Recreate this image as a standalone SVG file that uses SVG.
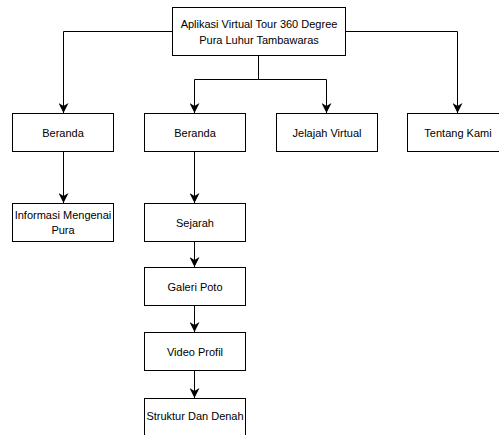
<svg xmlns="http://www.w3.org/2000/svg" width="499" height="435" viewBox="0 0 499 435">
<style>
.box{fill:#fff;stroke:#000;stroke-width:1}
.t{font-family:"Liberation Sans",Arial,sans-serif;font-size:11px;fill:#000;text-anchor:middle}
.c{fill:none;stroke:#000;stroke-width:1}
</style>
<defs>
<marker id="ah" viewBox="0 0 10 10" refX="10" refY="5" markerWidth="10" markerHeight="10" markerUnits="userSpaceOnUse" orient="auto">
<path d="M0,0 L10,5 L0,10 L3,5 Z" fill="#000"/>
</marker>
</defs>
<rect width="499" height="435" fill="#fff"/>
<g id="connectors">
<path class="c" d="M172.5,31.5 H63.5 V113" marker-end="url(#ah)"/>
<path class="c" d="M345.5,31.5 H457.5 V113" marker-end="url(#ah)"/>
<path class="c" d="M258.5,55.5 V79.5 H194.5 V113" marker-end="url(#ah)"/>
<path class="c" d="M258.5,79.5 H326.5 V113" marker-end="url(#ah)"/>
<path class="c" d="M63.5,151.5 V203" marker-end="url(#ah)"/>
<path class="c" d="M194.5,151.5 V203" marker-end="url(#ah)"/>
<path class="c" d="M194.5,241.5 V267" marker-end="url(#ah)"/>
<path class="c" d="M194.5,305.5 V332" marker-end="url(#ah)"/>
<path class="c" d="M194.5,370.5 V398" marker-end="url(#ah)"/>
</g>
<g id="root">
<rect class="box" x="172.5" y="7.5" width="173" height="48"/>
<text class="t" x="259" y="28">Aplikasi Virtual Tour 360 Degree</text>
<text class="t" x="259" y="44">Pura Luhur Tambawaras</text>
</g>
<g id="beranda1">
<rect class="box" x="12.5" y="113.5" width="101" height="38"/>
<text class="t" x="63" y="137">Beranda</text>
</g>
<g id="beranda2">
<rect class="box" x="144.5" y="113.5" width="101" height="38"/>
<text class="t" x="195" y="137">Beranda</text>
</g>
<g id="jelajah">
<rect class="box" x="276.5" y="113.5" width="101" height="38"/>
<text class="t" x="327" y="137">Jelajah Virtual</text>
</g>
<g id="tentang">
<rect class="box" x="407.5" y="113.5" width="101" height="38"/>
<text class="t" x="458" y="137">Tentang Kami</text>
</g>
<g id="informasi">
<rect class="box" x="12.5" y="203.5" width="101" height="38"/>
<text class="t" x="63" y="219">Informasi Mengenai</text>
<text class="t" x="63" y="234">Pura</text>
</g>
<g id="sejarah">
<rect class="box" x="144.5" y="203.5" width="101" height="38"/>
<text class="t" x="195" y="227">Sejarah</text>
</g>
<g id="galeri">
<rect class="box" x="144.5" y="267.5" width="101" height="38"/>
<text class="t" x="195" y="291">Galeri Poto</text>
</g>
<g id="video">
<rect class="box" x="144.5" y="332.5" width="101" height="38"/>
<text class="t" x="195" y="356">Video Profil</text>
</g>
<g id="struktur">
<rect class="box" x="144.5" y="398.5" width="101" height="40"/>
<text class="t" x="195" y="420">Struktur Dan Denah</text>
</g>
</svg>
